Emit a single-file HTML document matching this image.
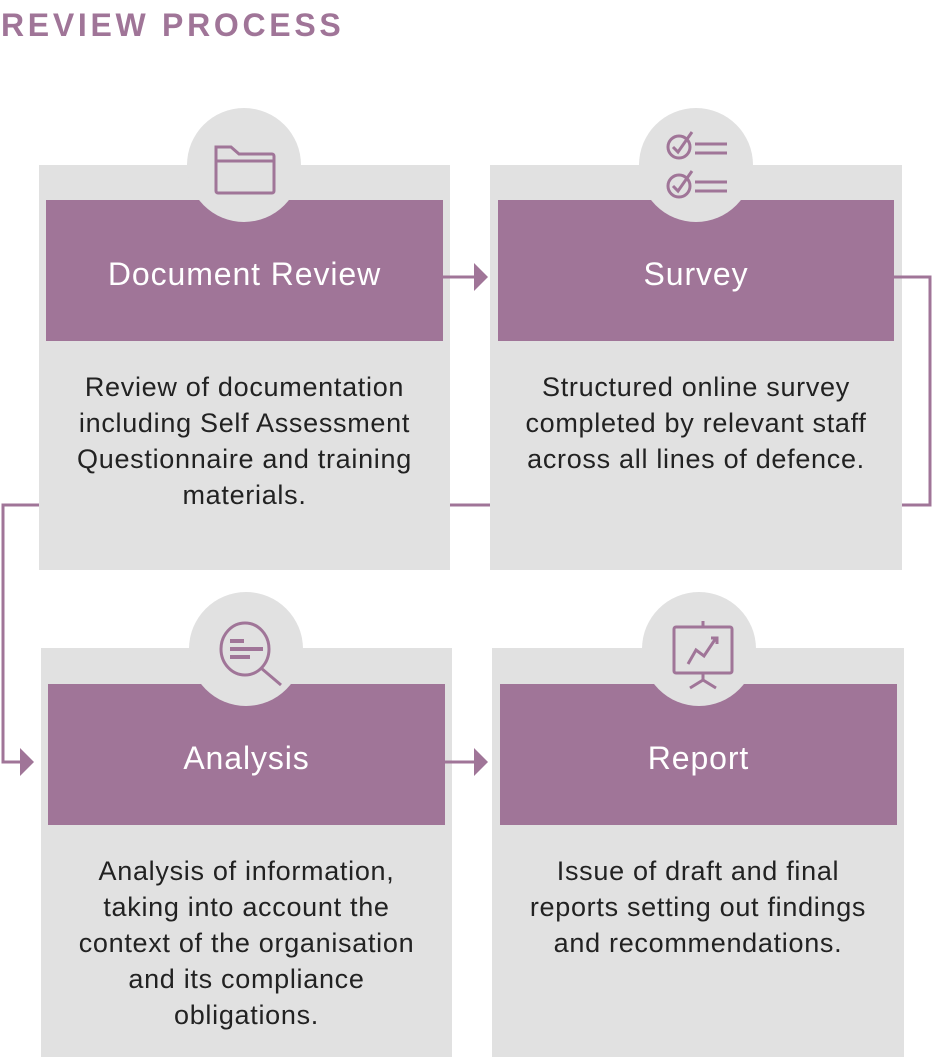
<!DOCTYPE html>
<html><head><meta charset="utf-8"><style>
body{margin:0;width:932px;height:1057px;background:#fff;position:relative;overflow:hidden;font-family:"Liberation Sans",sans-serif}
.t{position:absolute;left:1px;top:7px;font-size:32px;font-weight:bold;letter-spacing:3.7px;color:#a07598}
.g{position:absolute;background:#e1e1e1}
.c{position:absolute;width:114px;height:114px;border-radius:50%;background:#e1e1e1}
.p{position:absolute;background:#a07598;color:#fff;font-size:32px;letter-spacing:0.9px;display:flex;align-items:center;justify-content:center;height:141px;box-sizing:border-box;padding-top:8px}
.x{position:absolute;color:#222;font-size:27px;letter-spacing:0.7px;line-height:36px;text-align:center}
svg{position:absolute;left:0;top:0}
</style></head><body>
<div class="t">REVIEW PROCESS</div>
<div class="g" style="left:39px;top:165px;width:411px;height:405px"></div>
<div class="g" style="left:490px;top:165px;width:412px;height:405px"></div>
<div class="g" style="left:41px;top:648px;width:411px;height:409px"></div>
<div class="g" style="left:492px;top:648px;width:412px;height:409px"></div>
<div class="p" style="left:46px;top:200px;width:397px">Document Review</div>
<div class="p" style="left:498px;top:200px;width:396px">Survey</div>
<div class="p" style="left:48px;top:684px;width:397px">Analysis</div>
<div class="p" style="left:500px;top:684px;width:397px">Report</div>
<div class="c" style="left:187px;top:108px"></div>
<div class="c" style="left:639px;top:108px"></div>
<div class="c" style="left:189px;top:592px"></div>
<div class="c" style="left:642px;top:592px"></div>
<div class="x" style="left:39px;top:369px;width:411px">Review of documentation<br>including Self Assessment<br>Questionnaire and training<br>materials.</div>
<div class="x" style="left:490px;top:369px;width:412px">Structured online survey<br>completed by relevant staff<br>across all lines of defence.</div>
<div class="x" style="left:41px;top:853px;width:411px">Analysis of information,<br>taking into account the<br>context of the organisation<br>and its compliance<br>obligations.</div>
<div class="x" style="left:492px;top:853px;width:412px">Issue of draft and final<br>reports setting out findings<br>and recommendations.</div>
<svg width="932" height="1057" fill="none" stroke="#a07598" stroke-width="3">
<line x1="443" y1="277" x2="478" y2="277"/>
<path d="M474 263 L488 277 L474 291Z" fill="#a07598" stroke="none"/>
<path d="M894 277 H930 V505 H902"/>
<line x1="450" y1="505" x2="490" y2="505"/>
<path d="M39 505 H3 V762 H24"/>
<path d="M20 748 L34 762 L20 776Z" fill="#a07598" stroke="none"/>
<line x1="445" y1="762" x2="478" y2="762"/>
<path d="M474 748 L488 762 L474 776Z" fill="#a07598" stroke="none"/>
<path d="M216 147 h15 l8 7 h33 a2 2 0 0 1 2 2 v35 a2 2 0 0 1 -2 2 h-54 a2 2 0 0 1 -2 -2 z M216 161 h58"/>
<circle cx="679" cy="147" r="11"/><path d="M673 147 l5 5 l14 -20 M695 144 h32 M695 153 h32"/>
<circle cx="679" cy="186" r="11"/><path d="M673 186 l5 5 l14 -20 M695 182 h32 M695 191 h32"/>
<ellipse cx="245" cy="649" rx="24" ry="26"/><path d="M261 668 L281 685"/>
<path d="M230 641 h14 M230 649 h33 M230 657 h20" stroke-width="4"/>
<rect x="674" y="627" width="58" height="46" rx="2"/><path d="M703 621 v6 M703 673 v7 M690 688 l13 -8 l13 8 M688 664 l8 -14 l8 6 l12 -18 M711 638 h6 v6"/>
</svg>
</body></html>
